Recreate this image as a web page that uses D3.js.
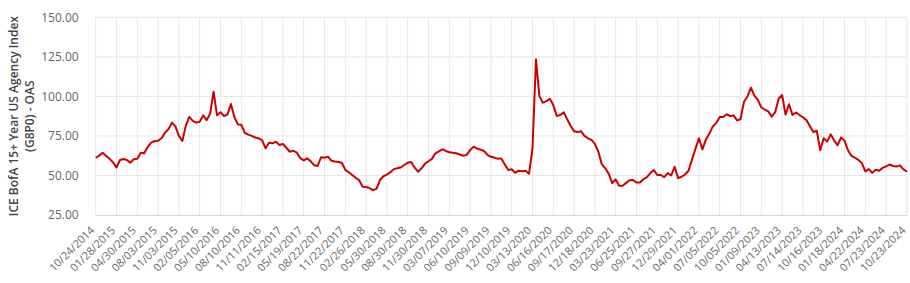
<!DOCTYPE html>
<html>
<head>
<meta charset="utf-8">
<script src="https://cdn.jsdelivr.net/npm/d3@7"></script>
<style>
  body { margin: 0; background: #fff; }
  svg { display: block; font-family: "Open Sans", sans-serif; }
</style>
</head>
<body>
<svg id="chart" width="910" height="283"></svg>
<script>
// tick labels on the category axis (one every 6 points)
const tickLabels = ["10/24/2014","01/28/2015","04/30/2015","08/03/2015","11/03/2015","02/05/2016",
  "05/10/2016","08/10/2016","11/11/2016","02/15/2017","05/19/2017","08/22/2017","11/22/2017",
  "02/26/2018","05/30/2018","08/30/2018","11/30/2018","03/07/2019","06/10/2019","09/09/2019",
  "12/10/2019","03/13/2020","06/16/2020","09/17/2020","12/18/2020","03/23/2021","06/25/2021",
  "09/27/2021","12/29/2021","04/01/2022","07/05/2022","10/05/2022","01/09/2023","04/13/2023",
  "07/14/2023","10/16/2023","01/18/2024","04/22/2024","07/23/2024","10/23/2024"];
const pointsPerLabel = 6;

const oasValues = [
  61.2,62.5,64.4,62.5,60.5,58.3,55.0,59.8,60.4,59.8,58.1,60.2,60.5,64.4,64.0,68.0,70.8,71.8,72.0,73.5,
  77.0,79.3,83.4,81.0,75.0,71.8,81.5,87.0,84.5,83.4,84.0,88.0,85.0,89.0,103.0,88.0,90.0,87.6,88.5,95.2,
  87.0,82.3,82.0,77.0,75.8,75.0,74.0,73.5,72.4,67.2,70.7,70.3,71.3,69.3,70.0,67.5,65.0,65.7,64.5,61.0,
  59.5,60.8,59.0,56.5,56.0,61.5,61.2,61.9,59.3,58.8,58.5,58.0,53.5,52.0,50.3,48.5,47.0,42.9,42.7,42.0,
  40.8,41.5,47.1,49.5,50.5,52.0,54.0,54.5,55.0,56.6,58.0,58.5,55.0,52.4,54.5,57.5,59.0,60.5,64.0,65.2,
  66.5,65.5,64.7,64.3,64.0,63.3,62.5,63.0,66.0,68.2,67.0,66.3,65.5,63.0,61.8,61.3,60.5,60.8,57.0,53.5,
  53.9,51.7,53.0,52.6,53.0,51.0,67.0,123.4,100.0,96.0,97.0,98.5,94.5,87.6,88.2,90.0,85.5,81.3,78.0,77.5,
  78.0,75.0,73.5,72.5,70.0,65.0,57.0,54.5,51.0,45.2,47.5,43.5,43.5,45.3,47.0,47.1,45.5,45.5,47.6,49.0,
  51.5,53.4,50.3,50.3,49.0,51.5,50.0,55.5,48.3,49.2,50.6,53.0,60.0,66.8,73.5,66.5,72.5,76.3,81.0,83.1,
  87.0,87.0,88.7,87.5,88.0,84.8,85.5,96.6,99.9,105.5,100.5,97.8,93.0,91.7,90.5,87.2,90.0,98.5,100.9,88.5,
  95.0,88.3,89.8,88.2,86.8,85.0,81.3,77.5,78.3,66.0,73.5,71.4,76.0,72.2,69.0,74.0,72.0,66.0,62.4,61.2,
  59.8,57.8,52.6,54.0,51.7,53.6,53.0,54.8,55.8,56.9,56.0,55.6,56.4,53.9,52.4
];

const yTicks = [25, 50, 75, 100, 125, 150];
const yTitle = ["ICE BofA 15+ Year US Agency Index", "(G8P0) - OAS"];

const svg = d3.select("#chart");
const plotLeft = 95.7, plotRight = 906.9, plotTop = 17.3, plotBottom = 215;

const x = d3.scaleLinear()
    .domain([0, oasValues.length - 1])
    .range([plotLeft, plotRight]);

const y = d3.scaleLinear()
    .domain([25, 150])
    .range([plotBottom, plotTop]);

const tickIdx = tickLabels.map((d, i) => i * pointsPerLabel);

// grid
const grid = svg.append("g").attr("class", "grid");
grid.selectAll("line.v")
    .data(tickIdx)
    .enter().append("line")
    .attr("class", "v")
    .attr("x1", d => x(d)).attr("x2", d => x(d))
    .attr("y1", plotTop).attr("y2", plotBottom)
    .attr("stroke", "#e6e6e6").attr("stroke-width", 1);
grid.selectAll("line.h")
    .data(yTicks.filter(d => d > 25))
    .enter().append("line")
    .attr("class", "h")
    .attr("x1", plotLeft).attr("x2", plotRight)
    .attr("y1", d => y(d)).attr("y2", d => y(d))
    .attr("stroke", "#e6e6e6").attr("stroke-width", 1);

// y axis labels
const yAxis = svg.append("g")
    .attr("transform", "translate(" + (plotLeft - 14) + ",0)")
    .call(d3.axisLeft(y).tickValues(yTicks).tickSize(0).tickFormat(d3.format(".2f")));
yAxis.select(".domain").remove();
yAxis.selectAll("text")
    .attr("fill", "#666")
    .attr("font-size", "12px")
    .attr("font-family", "Open Sans, sans-serif");

// x axis
const xAxis = svg.append("g")
    .attr("transform", "translate(0," + plotBottom + ")")
    .call(d3.axisBottom(x).tickValues(tickIdx).tickSize(0)
        .tickFormat((d, i) => tickLabels[i]));
xAxis.select(".domain")
    .attr("stroke", "#ccd6eb");
xAxis.selectAll("text")
    .attr("fill", "#666")
    .attr("font-size", "11px")
    .attr("font-family", "Open Sans, sans-serif")
    .attr("text-anchor", "end")
    .attr("dy", null)
    .attr("y", 0)
    .attr("transform", "translate(-1,16) rotate(-45)");

// y axis title
const title = svg.append("text")
    .attr("transform", "translate(21," + ((plotTop + plotBottom) / 2) + ") rotate(-90)")
    .attr("text-anchor", "middle")
    .attr("fill", "#444")
    .attr("font-size", "12px")
    .attr("font-weight", 600);
title.selectAll("tspan")
    .data(yTitle)
    .enter().append("tspan")
    .attr("x", 0)
    .attr("dy", (d, i) => i === 0 ? "-0.25em" : "1.3em")
    .text(d => d);

// line
const line = d3.line()
    .x((d, i) => x(i))
    .y(d => y(d));

svg.append("path")
    .datum(oasValues)
    .attr("fill", "none")
    .attr("stroke", "#cc0000")
    .attr("stroke-width", 2)
    .attr("stroke-linejoin", "round")
    .attr("d", line);
</script>
</body>
</html>
